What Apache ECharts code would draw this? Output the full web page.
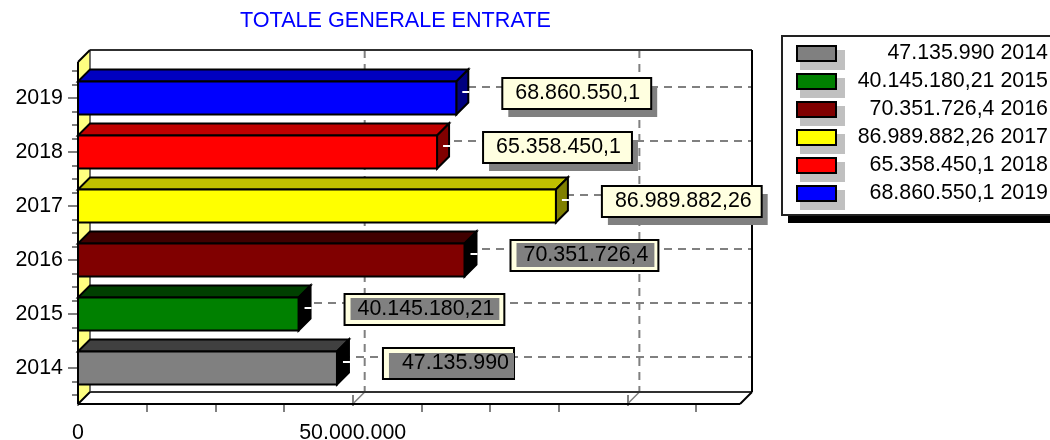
<!DOCTYPE html>
<html>
<head>
<meta charset="utf-8">
<style>html,body{margin:0;padding:0;background:#fff}#c{width:1050px;height:440px}</style>
<script src="https://cdn.jsdelivr.net/npm/echarts@6/dist/echarts.min.js"></script>
</head>
<body>
<div id="c"></div>
<script>
// ---- data ----
const categories = ['2014', '2015', '2016', '2017', '2018', '2019'];
const seriesValues = [47135990, 40145180.21, 70351726.4, 86989882.26, 65358450.1, 68860550.1];
const valueLabels = ['47.135.990', '40.145.180,21', '70.351.726,4', '86.989.882,26', '65.358.450,1', '68.860.550,1'];
const xLabelValues = [0, 50000000];
const xLabelTexts = ['0', '50.000.000'];
const xMajorTicks = [0, 50000000, 100000000];
const xMinorTicks = [12500000, 25000000, 37500000, 62500000, 75000000, 87500000, 112500000];
const xGridValues = [50000000, 100000000];
const yMinorTicks = [0, 0.25, 1, 1.25, 1.75, 2, 2.25, 2.75, 3, 3.25, 3.75, 4, 4.25, 4.75, 5, 5.25, 5.75, 6];
const xMax = 120500000;

// ---- styles ----
const faceColors = ['#808080', '#008000', '#800000', '#ffff00', '#ff0000', '#0000ff'];
const topColors = ['#404040', '#004000', '#400000', '#c0c000', '#c00000', '#0000c0'];
const sideColors = ['#000000', '#000000', '#000000', '#808000', '#800000', '#000080'];
// left, right, top, bottom inset of the grey block inside the label box; null = drop shadow instead
const labelInsets = [[6, 0, 5, 1], [6, 5, 4, 5], [6, 4, 3, 4], null, null, null];
const labelPadLeft = [19, 13, 13, 13, 13, 13];
const labelPadRight = [5, 10, 10, 10, 11, 11];
const FONT = '"Liberation Sans", Arial, sans-serif';
const FS = 21.4;
const DEPTH = 12;
const GRIDGREY = '#808080';

const measure = document.createElement('canvas').getContext('2d');
measure.font = FS + 'px ' + FONT;

const dash = { stroke: GRIDGREY, lineWidth: 2, lineDash: [8, 6], fill: null };
function line(x1, y1, x2, y2, style) {
  return { type: 'line', shape: { x1, y1, x2, y2 }, style };
}

function renderFrame(params, api) {
  const cs = params.coordSys;
  const L = cs.x, R = cs.x + cs.width, B = cs.y + cs.height + 9, T = cs.y - 9;
  const dark = { stroke: '#303030', lineWidth: 2, fill: null };
  const black = { stroke: '#000', lineWidth: 2, fill: null };
  const kids = [];
  kids.push({ type: 'polygon', shape: { points: [[L, T], [L + DEPTH, T - DEPTH], [L + DEPTH, B - DEPTH], [L, B]] },
    style: { fill: '#ffff80', stroke: null } });
  xGridValues.forEach(v => {
    const x = api.coord([v, 0])[0];
    kids.push(line(x + DEPTH, T - DEPTH, x + DEPTH, B - DEPTH, dash));
    kids.push(line(x + DEPTH, B - DEPTH, x, B, { stroke: GRIDGREY, lineWidth: 1.5, fill: null }));
  });
  categories.forEach(c => {
    const y = api.coord([0, c])[1] - DEPTH + 1;
    kids.push(line(L + DEPTH, y, R + DEPTH, y, dash));
  });
  kids.push(line(L + DEPTH, T - DEPTH, L + DEPTH, B - DEPTH, { stroke: '#404040', lineWidth: 1.5, fill: null }));
  kids.push(line(L + DEPTH, T - DEPTH, R + DEPTH, T - DEPTH, dark));
  kids.push(line(L + DEPTH, B - DEPTH, R + DEPTH, B - DEPTH, dark));
  kids.push(line(R + DEPTH, T - DEPTH, R + DEPTH, B - DEPTH, black));
  kids.push(line(L, T, L + DEPTH, T - DEPTH, black));
  kids.push(line(L, B, L + DEPTH, B - DEPTH, black));
  kids.push(line(R, B, R + DEPTH, B - DEPTH, black));
  kids.push(line(L, T, L, B, black));
  kids.push(line(L, B, R, B, black));
  return { type: 'group', children: kids };
}

function renderBar(i) {
  return function (params, api) {
    const end = api.coord([api.value(0), api.value(1)]);
    const start = api.coord([0, api.value(1)]);
    const h = api.size([0, 1])[1] * 0.61;
    const x0 = start[0], x1 = end[0], y0 = end[1] - h / 2, y1 = end[1] + h / 2;
    const edge = { stroke: '#000', lineWidth: 2, lineJoin: 'miter' };
    const kids = [
      { type: 'polygon', shape: { points: [[x0, y0], [x0 + DEPTH, y0 - DEPTH], [x1 + DEPTH, y0 - DEPTH], [x1, y0]] },
        style: Object.assign({ fill: topColors[i] }, edge) },
      { type: 'polygon', shape: { points: [[x1, y0], [x1 + DEPTH, y0 - DEPTH], [x1 + DEPTH, y1 - DEPTH], [x1, y1]] },
        style: Object.assign({ fill: sideColors[i] }, edge) },
      { type: 'rect', shape: { x: x0, y: y0, width: x1 - x0, height: y1 - y0 },
        style: Object.assign({ fill: faceColors[i] }, edge) },
      line(x1 + DEPTH / 2, end[1] - DEPTH / 2, x1 + DEPTH + 1, end[1] - DEPTH / 2, { stroke: '#fff', lineWidth: 2, fill: null })
    ];
    const txt = valueLabels[i];
    const tw = measure.measureText(txt).width;
    const bx = x1 + 46, by = end[1] - 20, bw = tw + labelPadLeft[i] + labelPadRight[i], bh = 31;
    const inset = labelInsets[i];
    if (!inset) {
      kids.push({ type: 'rect', shape: { x: bx + 6, y: by + 8, width: bw, height: bh }, style: { fill: '#808080' } });
    }
    kids.push({ type: 'rect', shape: { x: bx, y: by, width: bw, height: bh }, style: { fill: '#ffffe0', stroke: '#000', lineWidth: 2 } });
    if (inset) {
      kids.push({ type: 'rect', shape: { x: bx + inset[0], y: by + inset[2], width: bw - inset[0] - inset[1], height: bh - inset[2] - inset[3] }, style: { fill: '#808080' } });
    }
    kids.push({ type: 'text', style: { text: txt, x: bx + labelPadLeft[i], y: by + bh / 2, fill: '#000',
      font: FS + 'px ' + FONT, verticalAlign: 'middle', align: 'left' } });
    return { type: 'group', children: kids };
  };
}

const series = [{
  type: 'custom', name: '_frame', z: 1, silent: true, coordinateSystem: 'cartesian2d',
  xAxisIndex: 0, yAxisIndex: 0, data: [[0, categories[0]]], renderItem: renderFrame, clip: false
}];
categories.forEach((c, i) => {
  series.push({
    type: 'custom', name: c, z: 3 + i, coordinateSystem: 'cartesian2d', xAxisIndex: 0, yAxisIndex: 0,
    itemStyle: { color: faceColors[i] }, clip: false,
    data: [[seriesValues[i], c]], encode: { x: 0, y: 1 }, renderItem: renderBar(i)
  });
});

const grey = [];
categories.forEach((c, i) => {
  grey.push({ type: 'rect', z: 2, shape: { x: 800, y: 50 + i * 28, width: 45, height: 20 }, style: { fill: '#c0c0c0' } });
});

const chart = echarts.init(document.getElementById('c'), null, { renderer: 'canvas' });
chart.setOption({
  animation: false,
  backgroundColor: '#fff',
  textStyle: { fontFamily: FONT },
  title: { text: 'TOTALE GENERALE ENTRATE', left: 240, top: 10, padding: 0,
    textStyle: { color: '#0000ff', fontSize: 21.6, fontWeight: 'normal', fontFamily: FONT } },
  grid: { left: 78, top: 71, width: 662, height: 324, containLabel: false, outerBoundsMode: 'none' },
  xAxis: [{
    type: 'value', min: 0, max: xMax, offset: 9, position: 'bottom',
    axisLine: { show: false }, splitLine: { show: false },
    axisTick: { show: true, length: 11, customValues: xMajorTicks, lineStyle: { color: GRIDGREY, width: 2 } },
    axisLabel: { show: true, customValues: xLabelValues, margin: 19, color: '#000', fontSize: FS, fontFamily: FONT,
      formatter: v => xLabelTexts[xLabelValues.indexOf(v)] }
  }, {
    type: 'value', min: 0, max: xMax, offset: 9, position: 'bottom',
    axisLine: { show: false }, splitLine: { show: false }, axisLabel: { show: false },
    axisTick: { show: true, length: 8, customValues: xMinorTicks, lineStyle: { color: GRIDGREY, width: 2 } }
  }],
  yAxis: [{
    type: 'category', data: categories, position: 'left',
    axisLine: { show: false, onZero: false }, splitLine: { show: false },
    axisTick: { show: true, alignWithLabel: true, length: 10, lineStyle: { color: GRIDGREY, width: 2 } },
    axisLabel: { margin: 15, color: '#000', fontSize: FS, fontFamily: FONT }
  }, {
    type: 'value', min: 0, max: 6, position: 'left',
    axisLine: { show: false, onZero: false }, splitLine: { show: false }, axisLabel: { show: false },
    axisTick: { show: true, length: 6, customValues: yMinorTicks, lineStyle: { color: GRIDGREY, width: 2 } }
  }],
  legend: {
    orient: 'vertical', left: 796, top: 43, padding: 0, z: 10, selectedMode: false,
    itemWidth: 39, itemHeight: 15, itemGap: 7,
    data: categories.map((c, i) => ({ name: c, icon: 'rect',
      itemStyle: { color: faceColors[i], borderColor: '#000', borderWidth: 2 } })),
    formatter: name => '{t|' + valueLabels[categories.indexOf(name)] + ' ' + name + '}',
    textStyle: { rich: { t: { width: 207, align: 'right', fontSize: FS, fontFamily: FONT, color: '#000', height: 21, lineHeight: 21 } } }
  },
  graphic: [
    { type: 'rect', z: 1, shape: { x: 788, y: 43, width: 300, height: 180 }, style: { fill: '#000' } },
    { type: 'rect', z: 1, shape: { x: 782, y: 36, width: 300, height: 179 }, style: { fill: '#fff', stroke: '#222', lineWidth: 2 } }
  ].concat(grey),
  series
});
</script>
</body>
</html>
